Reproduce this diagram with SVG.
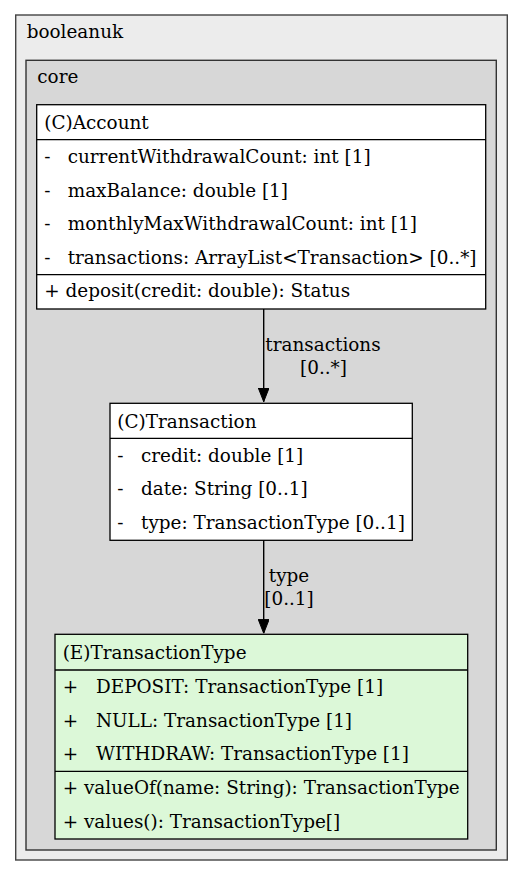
<svg xmlns="http://www.w3.org/2000/svg" width="528" height="877" viewBox="0 0 528 877">
<style>
text{font-family:"DejaVu Serif","Liberation Serif",serif;font-size:18.4px;fill:#000}
.pkg1{fill:#ececec;stroke:#444;stroke-width:1.4}
.pkg2{fill:#d7d7d7;stroke:#333;stroke-width:1.4}
.cls{fill:#fff;stroke:#000;stroke-width:1.3}
.enm{fill:#dcf8d8;stroke:#000;stroke-width:1.3}
.sep{stroke:#000;stroke-width:1.3}
.edge{stroke:#000;stroke-width:1.4;fill:none}
.mid{text-anchor:middle}
</style>
<defs>
<marker id="arr" viewBox="0 0 14 11" refX="14" refY="5.5" markerWidth="14" markerHeight="11" markerUnits="userSpaceOnUse" orient="auto">
<path d="M0,0 L14,5.5 L0,11 Z" fill="#000" stroke="#000" stroke-width="1"/>
</marker>
</defs>
<g id="booleanuk">
<rect class="pkg1" x="15.7" y="15" width="491.6" height="845"/>
<text x="26.7" y="38">booleanuk</text>
</g>
<g id="core">
<rect class="pkg2" x="26" y="60.3" width="470.3" height="789.7"/>
<text x="37.3" y="83">core</text>
</g>
<g id="Account">
<rect class="cls" x="36.7" y="104.7" width="449" height="204.3"/>
<line class="sep" x1="36.7" y1="139.7" x2="485.7" y2="139.7"/>
<line class="sep" x1="36.7" y1="274.7" x2="485.7" y2="274.7"/>
<text x="44.3" y="129.3">(C)Account</text>
<text x="44.3" y="162.7">-</text><text x="67.7" y="162.7">currentWithdrawalCount: int [1]</text>
<text x="44.3" y="196.7">-</text><text x="67.7" y="196.7">maxBalance: double [1]</text>
<text x="44.3" y="230">-</text><text x="67.7" y="230">monthlyMaxWithdrawalCount: int [1]</text>
<text x="44.3" y="264">-</text><text x="67.7" y="264">transactions: ArrayList&lt;Transaction&gt; [0..*]</text>
<text x="44.3" y="297">+ deposit(credit: double): Status</text>
</g>
<g id="Transaction">
<rect class="cls" x="110" y="403.3" width="302.3" height="137"/>
<line class="sep" x1="110" y1="438.3" x2="412.3" y2="438.3"/>
<text x="117.3" y="428">(C)Transaction</text>
<text x="117.3" y="461.7">-</text><text x="141" y="461.7">credit: double [1]</text>
<text x="117.3" y="495">-</text><text x="141" y="495">date: String [0..1]</text>
<text x="117.3" y="529">-</text><text x="141" y="529">type: TransactionType [0..1]</text>
</g>
<g id="TransactionType">
<rect class="enm" x="55" y="634.3" width="412.7" height="204.7"/>
<line class="sep" x1="55" y1="670" x2="467.7" y2="670"/>
<line class="sep" x1="55" y1="771.3" x2="467.7" y2="771.3"/>
<text x="62.7" y="659.3">(E)TransactionType</text>
<text x="62.7" y="692.7">+</text><text x="96" y="692.7">DEPOSIT: TransactionType [1]</text>
<text x="62.7" y="726.7">+</text><text x="96" y="726.7">NULL: TransactionType [1]</text>
<text x="62.7" y="760">+</text><text x="96" y="760">WITHDRAW: TransactionType [1]</text>
<text x="62.7" y="794">+ valueOf(name: String): TransactionType</text>
<text x="62.7" y="828.3">+ values(): TransactionType[]</text>
</g>
<g id="connectors">
<path class="edge" d="M263.7,309 L263.7,401.7" marker-end="url(#arr)"/>
<text class="mid" x="323" y="351">transactions</text>
<text class="mid" x="323.5" y="374">[0..*]</text>
<path class="edge" d="M263.7,540.3 L263.7,633.3" marker-end="url(#arr)"/>
<text class="mid" x="289" y="581.7">type</text>
<text class="mid" x="289" y="605">[0..1]</text>
</g>
</svg>
